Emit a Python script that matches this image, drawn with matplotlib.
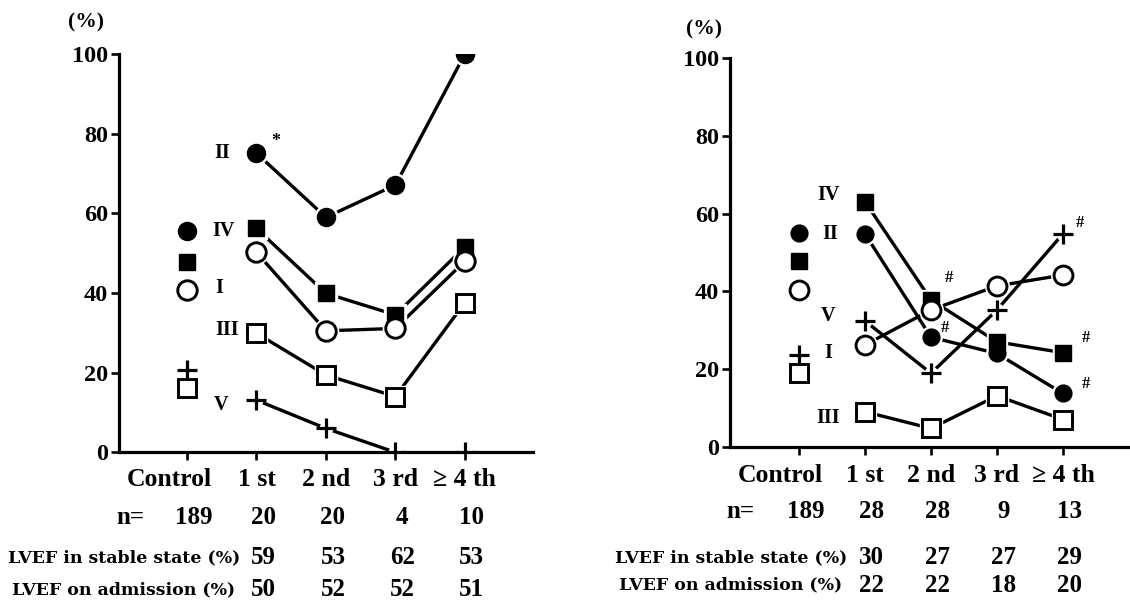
import matplotlib
matplotlib.use("Agg")
import matplotlib.pyplot as plt
from matplotlib import transforms

# ---------------- data ----------------
categories = ["Control", "1 st", "2 nd", "3 rd", "\u2265 4 th"]

# left panel (values at Control, 1st, 2nd, 3rd, >=4th)
left_I   = [40.7, 50.2, 30.5, 31.1, 48.0]
left_II  = [55.6, 75.1, 59.0, 67.1, 100.0]
left_III = [16.2, 29.9, 19.4, 14.0, 37.6]
left_IV  = [47.9, 56.2, 39.9, 34.5, 51.6]
left_V   = [20.7, 13.1, 6.0, 0.0, 0.0]
left_n = ["189", "20", "20", "4", "10"]
left_lvef_stable = ["59", "53", "62", "53"]
left_lvef_adm = ["50", "52", "52", "51"]

# right panel
right_I   = [40.3, 26.2, 35.2, 41.4, 44.2]
right_II  = [54.9, 54.8, 28.2, 24.0, 13.7]
right_III = [18.9, 9.0, 4.7, 13.1, 7.0]
right_IV  = [47.8, 63.1, 37.8, 27.0, 24.2]
right_V   = [23.6, 32.4, 18.9, 35.2, 54.8]
right_n = ["189", "28", "28", "9", "13"]
right_lvef_stable = ["30", "27", "27", "29"]
right_lvef_adm = ["22", "22", "18", "20"]

yticks = [0, 20, 40, 60, 80, 100]

# ---------------- style ----------------
SERIF = ["Liberation Serif", "DejaVu Serif"]
plt.rcParams["font.family"] = SERIF
plt.rcParams["font.weight"] = "bold"

W, H = 1130, 600
fig = plt.figure(figsize=(W / 100, H / 100), dpi=100)


def px_axes(x0, x1, y_top, y_bot):
    return [x0 / W, 1 - y_bot / H, (x1 - x0) / W, (y_bot - y_top) / H]


LW = 2.4


def draw_series(ax, vals, kind, size_scale=1.0, connect_upto=None):
    x = list(range(len(vals)))
    xs, ys = x[1:], vals[1:]
    if connect_upto is not None:
        ax.plot(xs[:connect_upto], ys[:connect_upto], color="black", lw=LW,
                zorder=2, solid_capstyle="butt")
    else:
        ax.plot(xs, ys, color="black", lw=LW, zorder=2, solid_capstyle="butt")
    s = size_scale
    if kind == "fc":
        ax.plot(x, vals, ls="none", marker="o", ms=16.5 * s, color="white", zorder=3)
        ax.plot(x, vals, ls="none", marker="o", ms=13 * s, color="black", zorder=4)
    elif kind == "fs":
        ax.plot(x, vals, ls="none", marker="s", ms=15.5 * s, color="white", zorder=3)
        ax.plot(x, vals, ls="none", marker="s", ms=12 * s, color="black", zorder=4)
    elif kind == "oc":
        ax.plot(x, vals, ls="none", marker="o", ms=17.5 * s, color="white", zorder=3)
        ax.plot(x, vals, ls="none", marker="o", ms=14 * s, mfc="white",
                mec="black", mew=2.1, zorder=4)
    elif kind == "os":
        ax.plot(x, vals, ls="none", marker="s", ms=16.5 * s, color="white", zorder=3)
        ax.plot(x, vals, ls="none", marker="s", ms=13.5 * s, mfc="white",
                mec="black", mew=2.1, zorder=4)
    elif kind == "plus":
        ax.plot(x, vals, ls="none", marker="o", ms=9 * s, color="white", zorder=3)
        ax.plot(x, vals, ls="none", marker="+", ms=15 * s, mec="black",
                mew=2.3, zorder=4)


def setup_axis(ax, xmin, xmax):
    ax.set_xlim(xmin, xmax)
    ax.set_ylim(0, 100)
    for sp in ["top", "right"]:
        ax.spines[sp].set_visible(False)
    for sp in ["left", "bottom"]:
        ax.spines[sp].set_linewidth(2.3)
    ax.set_yticks(yticks)
    ax.set_yticklabels([str(v) for v in yticks], fontsize=17.5, fontweight="bold",
                       family=SERIF)
    ax.set_xticks(range(len(categories)))
    ax.set_xticklabels([])
    ax.tick_params(axis="y", direction="out", length=6, width=1.9, pad=2)
    ax.tick_params(axis="x", direction="out", length=6, width=1.9)
    for sp in ax.spines.values():
        sp.set_clip_on(False)


def bottom_rows(ax, n_vals, stable, adm, ys, label_x_px, n_x):
    tr = transforms.blended_transform_factory(ax.transData, fig.transFigure)
    fy = lambda py: 1 - py / H
    for i, c in enumerate(categories):
        if i == 0:
            ax.text(i + 0.36, fy(ys[0]), c, transform=tr, ha="right", va="center",
                    fontsize=18.5, fontweight="bold", family=SERIF)
        else:
            ax.text(i, fy(ys[0]), c, transform=tr, ha="center", va="center",
                    fontsize=18.5, fontweight="bold", family=SERIF)
    ax.text(n_x, fy(ys[1]), "n=", transform=tr, ha="center", va="center",
            fontsize=18, fontweight="bold", family=SERIF)
    for i, v in enumerate(n_vals):
        ax.text(i + 0.1, fy(ys[1]), v, transform=tr, ha="center", va="center",
                fontsize=18, fontweight="bold", family=SERIF)
    fig.text(label_x_px / W, fy(ys[2]), "LVEF in stable state (%)", ha="left",
             va="center", fontsize=12.5, fontweight="bold", family=["DejaVu Serif"])
    fig.text(label_x_px / W + 4 / W, fy(ys[3]), "LVEF on admission (%)", ha="left",
             va="center", fontsize=12.5, fontweight="bold", family=["DejaVu Serif"])
    for i, v in enumerate(stable):
        ax.text(i + 1.1, fy(ys[2]), v, transform=tr, ha="center", va="center",
                fontsize=18, fontweight="bold", family=SERIF)
    for i, v in enumerate(adm):
        ax.text(i + 1.1, fy(ys[3]), v, transform=tr, ha="center", va="center",
                fontsize=18, fontweight="bold", family=SERIF)


# ---------------- left panel ----------------
axL = fig.add_axes(px_axes(119, 533, 54, 452.3))
setup_axis(axL, -0.978, 4.98)
draw_series(axL, left_II, "fc")
draw_series(axL, left_IV, "fs")
draw_series(axL, left_I, "oc")
draw_series(axL, left_III, "os")
draw_series(axL, left_V, "plus", connect_upto=3)

lab_kw = dict(fontsize=14.5, fontweight="bold", family=SERIF, ha="center", va="center")
axL.text(0.50, 75.1, "II", **lab_kw)
axL.text(1.28, 78.0, "*", fontsize=13, fontweight="bold", ha="center", va="center")
axL.text(0.53, 55.6, "IV", **lab_kw)
axL.text(0.46, 41.2, "I", **lab_kw)
axL.text(0.58, 30.7, "III", **lab_kw)
axL.text(0.49, 11.9, "V", **lab_kw)
fig.text(86 / W, 1 - 22 / H, "(%)", ha="center", va="center", fontsize=15.5,
         fontweight="bold", family=SERIF)
bottom_rows(axL, left_n, left_lvef_stable, left_lvef_adm,
            [479, 518, 558, 590], 8, -0.81)

# ---------------- right panel ----------------
axR = fig.add_axes(px_axes(730, 1130, 58.3, 446.7))
setup_axis(axR, -1.045, 5.016)
draw_series(axR, right_II, "fc", 0.93)
draw_series(axR, right_IV, "fs", 0.92)
draw_series(axR, right_I, "oc", 0.97)
draw_series(axR, right_III, "os", 0.95)
draw_series(axR, right_V, "plus")

axR.text(0.44, 64.8, "IV", **lab_kw)
axR.text(0.48, 54.8, "II", **lab_kw)
axR.text(0.44, 33.6, "V", **lab_kw)
axR.text(0.44, 24.1, "I", **lab_kw)
axR.text(0.44, 7.4, "III", **lab_kw)
hash_kw = dict(fontsize=12, fontweight="bold", ha="center", va="center")
axR.text(2.27, 43.4, "#", **hash_kw)
axR.text(2.21, 30.5, "#", **hash_kw)
axR.text(4.26, 57.6, "#", **hash_kw)
axR.text(4.35, 28.0, "#", **hash_kw)
axR.text(4.35, 16.2, "#", **hash_kw)
fig.text(704 / W, 1 - 29 / H, "(%)", ha="center", va="center", fontsize=15.5,
         fontweight="bold", family=SERIF)
bottom_rows(axR, right_n, right_lvef_stable, right_lvef_adm,
            [475, 512, 558, 585], 615, -0.88)

fig.savefig("out.png", dpi=100, facecolor="white")
